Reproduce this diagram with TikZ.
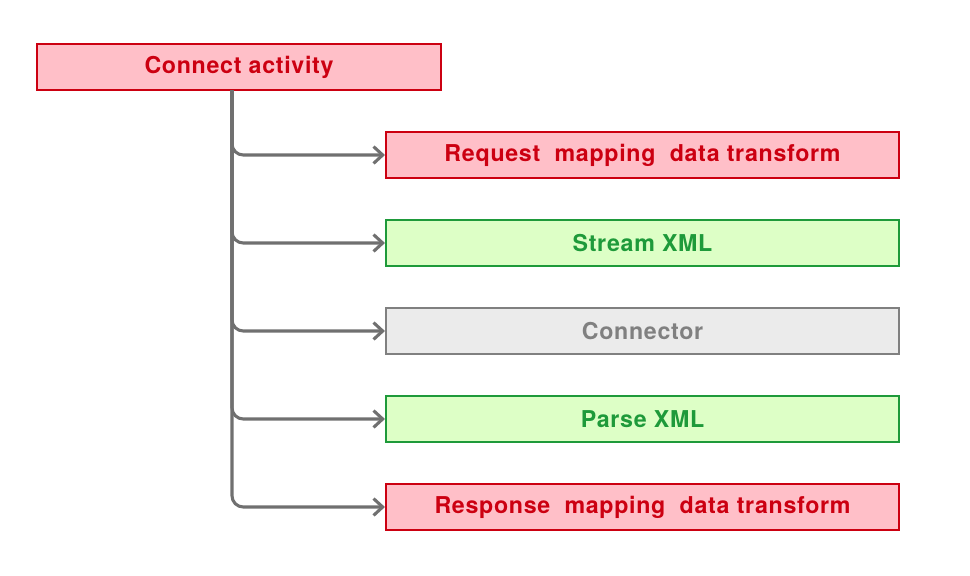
\documentclass[tikz,border=0pt]{standalone}
\usepackage{fontspec}
\setmainfont{TeX Gyre Heros}
\newfontfamily\labelfont[LetterSpace=3]{TeX Gyre Heros}
\usetikzlibrary{arrows.meta}
\definecolor{redline}{HTML}{CC0011}
\definecolor{redfill}{HTML}{FFBFC8}
\definecolor{greenline}{HTML}{1E9A3A}
\definecolor{greenfill}{HTML}{DDFFC6}
\definecolor{grayline}{HTML}{808080}
\definecolor{grayfill}{HTML}{EBEBEB}
\definecolor{linkgray}{HTML}{707070}
\tikzset{
  box/.style     = {draw, line width=1.4pt, minimum height=1.15cm,
                    inner sep=0pt, font=\labelfont\fontsize{16.5}{19}\selectfont\bfseries},
  redbox/.style  = {box, draw=redline, fill=redfill, text=redline},
  greenbox/.style= {box, draw=greenline, fill=greenfill, text=greenline},
  graybox/.style = {box, draw=grayline, fill=grayfill, text=grayline},
  stepwide/.style= {minimum width=12.825cm},
  link/.style    = {draw=linkgray, line width=2.2pt, rounded corners=8pt,
                    -{Straight Barb[length=6.5pt,width=12pt]}}
}

\begin{document}
\begin{tikzpicture}[x=0.025cm, y=-0.025cm]
  \useasboundingbox (0,0) rectangle (970,575);
  \node[redbox, minimum width=10.1cm] (conn) at (239,67) {Connect activity};
  \node[redbox, stepwide]   (req)   at (642.5,155) {Request\ \ mapping\ \ data transform};
  \node[greenbox, stepwide] (sxml)  at (642.5,243) {Stream XML};
  \node[graybox, stepwide]  (ctor)  at (642.5,331) {Connector};
  \node[greenbox, stepwide] (pxml)  at (642.5,419) {Parse XML};
  \node[redbox, stepwide]   (resp)  at (642.5,507) {Response\ \ mapping\ \ data transform};
  \coordinate (trunk) at (232,90);
  \foreach \target in {req,sxml,ctor,pxml,resp}
    \draw[link] (trunk) |- (\target.west);
\end{tikzpicture}
\end{document}
